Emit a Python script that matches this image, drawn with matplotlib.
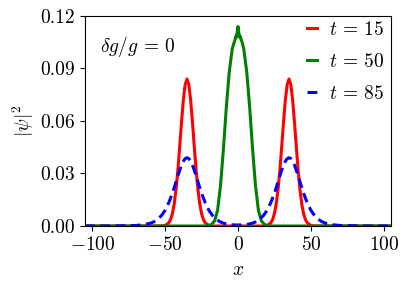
import numpy as np
import matplotlib
matplotlib.use("Agg")
import matplotlib.pyplot as plt

plt.rcParams['font.family'] = 'serif'
plt.rcParams['font.serif'] = ['cmr10']
plt.rcParams['mathtext.fontset'] = 'cm'
plt.rcParams['axes.formatter.use_mathtext'] = True
plt.rcParams['axes.unicode_minus'] = True

# |psi|^2
x_red = [-105, -60, -55, -52.5, -50, -47.5, -46.25, -45, -43.75, -42.5, -41.25,
         -40, -38.75, -37.5, -36.25, -35, -33.75, -32.5, -31.25, -30, -28.75,
         -27.5, -26.25, -25, -23.75, -22.5, -20, -17.5, 0,
         17.5, 20, 22.5, 23.75, 25, 26.25, 27.5, 28.75, 30, 31.25, 32.5, 33.75,
         35, 36.25, 37.5, 38.75, 40, 41.25, 42.5, 43.75, 45, 46.25, 47.5, 50,
         52.5, 55, 60, 105]
y_red = [0, 0, 0, 0.0000, 0.0003, 0.0018, 0.0037, 0.0071, 0.0127, 0.0210, 0.0320,
         0.0453, 0.0594, 0.0720, 0.0808, 0.0840, 0.0808, 0.0720, 0.0594, 0.0453,
         0.0320, 0.0210, 0.0127, 0.0071, 0.0037, 0.0018, 0.0003, 0, 0,
         0, 0.0003, 0.0018, 0.0037, 0.0071, 0.0127, 0.0210, 0.0320, 0.0453, 0.0594,
         0.0720, 0.0808, 0.0840, 0.0808, 0.0720, 0.0594, 0.0453, 0.0320, 0.0210,
         0.0127, 0.0071, 0.0037, 0.0018, 0.0003, 0.0000, 0, 0, 0]

x_green = [-105, -40, -24, -22, -20, -18, -16, -14, -12, -10, -8, -6, -4, -3,
           -2, -1.5, -1, -0.5, 0, 0.5, 1, 1.5, 2, 3, 4, 6, 8, 10, 12, 14,
           16, 18, 20, 22, 24, 40, 105]
y_green = [0, 0, 0, 0.0001, 0.0002, 0.0010, 0.0030, 0.0090, 0.0230, 0.0440,
           0.0680, 0.0880, 0.1010, 0.1040, 0.1065, 0.1085, 0.1080, 0.1110, 0.1140,
           0.1110, 0.1080, 0.1085, 0.1070, 0.1045, 0.1010, 0.0880, 0.0680, 0.0440,
           0.0230, 0.0090, 0.0030, 0.0010, 0.0002, 0.0001, 0, 0, 0]

x_blue = [-105, -90, -80, -70, -65, -60, -57.5, -55, -52.5, -50, -47.5, -45,
          -42.5, -41.25, -40, -38.75, -37.5, -36.25, -35, -33.75, -32.5, -31.25,
          -30, -28.75, -27.5, -25, -22.5, -20, -17.5,
          -15, -12.5, -10, -7.5, -5, -2.5, 0, 2.5, 5, 7.5, 10, 12.5, 15,
          17.5, 20, 22.5, 25, 27.5, 28.75, 30, 31.25, 32.5, 33.75, 35, 36.25,
          37.5, 38.75, 40, 41.25, 42.5, 45, 47.5,
          50, 52.5, 55, 57.5, 60, 65, 70, 80, 90, 105]
y_blue = [0, 0, 0.0001, 0.0003, 0.0007, 0.0016, 0.0025, 0.0039, 0.0060, 0.0090,
          0.0133, 0.0187, 0.0253, 0.0287, 0.0319, 0.0348, 0.0370, 0.0385, 0.0390,
          0.0385, 0.0370, 0.0348, 0.0319, 0.0287, 0.0253, 0.0187, 0.0133, 0.0090,
          0.0060, 0.0039, 0.0025, 0.0016, 0.0011, 0.0008, 0.0006, 0.0006, 0.0006,
          0.0008, 0.0011, 0.0016, 0.0025, 0.0039, 0.0060, 0.0090, 0.0133, 0.0187,
          0.0253, 0.0287, 0.0319, 0.0348, 0.0370, 0.0385, 0.0390, 0.0385, 0.0370,
          0.0348, 0.0319, 0.0287, 0.0253, 0.0187, 0.0133, 0.0090, 0.0060, 0.0039,
          0.0025, 0.0016, 0.0007, 0.0003, 0.0001, 0, 0]

labels = [r'$t\,=\,15$', r'$t\,=\,50$', r'$t\,=\,85$']
x_ticks = [-100, -50, 0, 50, 100]
y_ticks = [0.0, 0.03, 0.06, 0.09, 0.12]

fig = plt.figure(figsize=(4.07, 2.82), dpi=100)
ax = fig.add_axes([0.2088, 0.1986, 0.7519, 0.7447])

ax.plot(x_red, y_red, color='red', lw=2.2, label=labels[0])
ax.plot(x_green, y_green, color='green', lw=2.2, label=labels[1])
ax.plot(x_blue, y_blue, color='blue', lw=2.2, ls=(0, (3.2, 1.8)), label=labels[2])

ax.set_xlim(-105, 105)
ax.set_ylim(0, 0.12)
ax.set_xticks(x_ticks)
ax.set_yticks(y_ticks)
ax.set_yticklabels([f'{v:.2f}' for v in y_ticks])
ax.set_xticklabels([rf'$\mathdefault{{{v}}}$'.replace('-', '\u2212') for v in x_ticks])
ax.tick_params(labelsize=14)
ax.set_xlabel(r'$x$', fontsize=14, labelpad=5)
ax.set_ylabel(r'$|\psi|^2$', fontsize=14, labelpad=3)

ax.text(0.05, 0.855, r'$\delta g/g\,=\,0$', transform=ax.transAxes,
        fontsize=14, va='center', ha='left')

ax.legend(loc='upper right', bbox_to_anchor=(0.977, 0.975), frameon=False,
          fontsize=14, handlelength=0.5, handletextpad=0.6, labelspacing=0.72,
          borderaxespad=0, borderpad=0)

fig.savefig('out.png', dpi=100)
